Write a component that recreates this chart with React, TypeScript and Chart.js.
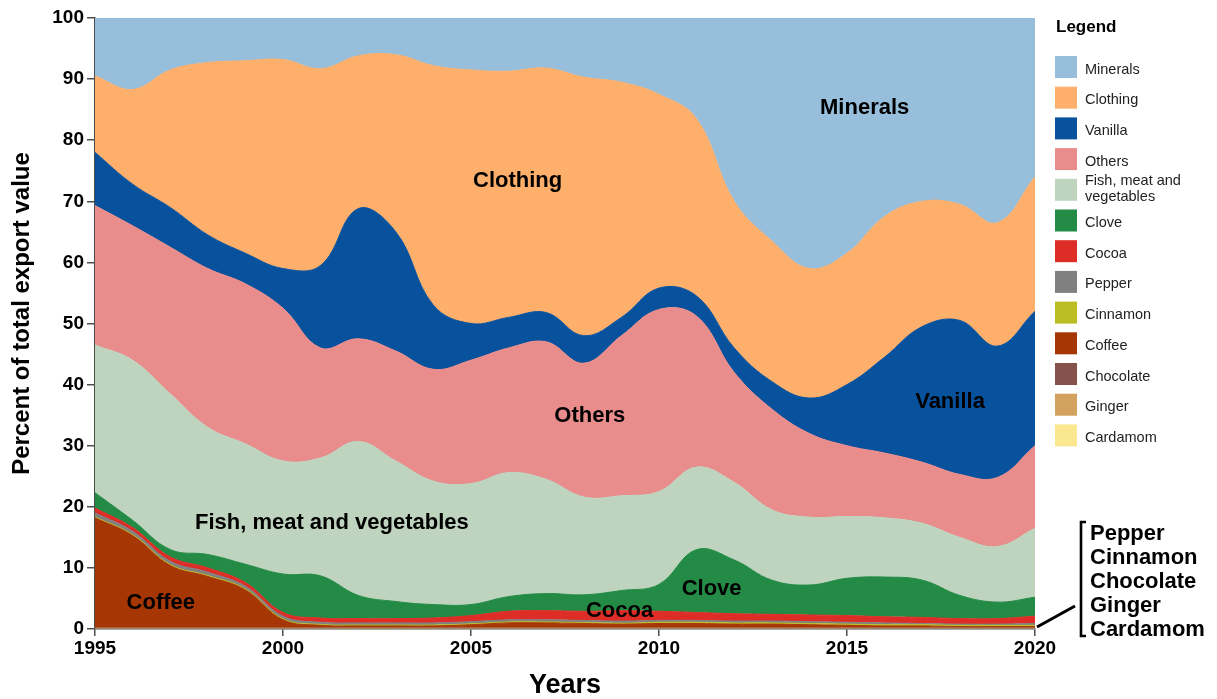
import React, { useEffect, useRef } from 'react';
import { Chart, registerables } from 'chart.js';

Chart.register(...registerables);

const FONT = '"Liberation Sans", Arial, Helvetica, sans-serif';
const AXIS_COLOR = '#4d4d4d';

// ---------------- data ----------------
const years = [
  1995, 1996, 1997, 1998, 1999, 2000, 2001, 2002, 2003, 2004, 2005, 2006, 2007,
  2008, 2009, 2010, 2011, 2012, 2013, 2014, 2015, 2016, 2017, 2018, 2019, 2020,
];

const cardamom = [0.05, 0.05, 0.05, 0.05, 0.05, 0.05, 0.05, 0.05, 0.05, 0.05, 0.05, 0.05, 0.05, 0.05, 0.05, 0.05, 0.05, 0.05, 0.05, 0.05, 0.05, 0.05, 0.05, 0.05, 0.05, 0.05];
const ginger = [0.05, 0.05, 0.05, 0.05, 0.05, 0.05, 0.05, 0.05, 0.05, 0.05, 0.05, 0.05, 0.05, 0.05, 0.05, 0.05, 0.05, 0.05, 0.05, 0.05, 0.05, 0.05, 0.05, 0.05, 0.05, 0.05];
const chocolate = [0.1, 0.1, 0.1, 0.1, 0.1, 0.1, 0.1, 0.1, 0.1, 0.1, 0.1, 0.1, 0.1, 0.1, 0.1, 0.1, 0.1, 0.1, 0.1, 0.1, 0.1, 0.1, 0.1, 0.1, 0.1, 0.1];
const coffee = [18.0, 15.1, 10.2, 8.4, 6.2, 1.3, 0.4, 0.3, 0.3, 0.3, 0.5, 0.8, 0.8, 0.7, 0.6, 0.7, 0.7, 0.6, 0.6, 0.5, 0.4, 0.3, 0.3, 0.2, 0.2, 0.2];
const cinnamon = [0.15, 0.15, 0.15, 0.15, 0.15, 0.15, 0.15, 0.15, 0.15, 0.15, 0.15, 0.15, 0.15, 0.15, 0.15, 0.2, 0.2, 0.2, 0.2, 0.2, 0.2, 0.2, 0.2, 0.2, 0.2, 0.2];
const pepper = [0.65, 0.55, 0.55, 0.55, 0.45, 0.45, 0.35, 0.35, 0.35, 0.35, 0.35, 0.35, 0.35, 0.35, 0.35, 0.3, 0.3, 0.3, 0.3, 0.3, 0.3, 0.3, 0.2, 0.2, 0.2, 0.3];
const cocoa = [0.8, 0.6, 0.7, 0.7, 0.6, 0.6, 0.7, 0.7, 0.7, 0.8, 1.0, 1.4, 1.5, 1.5, 1.7, 1.5, 1.3, 1.2, 1.1, 1.1, 1.1, 1.0, 1.0, 0.9, 0.9, 1.2];
const clove = [2.5, 1.2, 1.2, 2.2, 3.0, 6.3, 6.9, 3.8, 2.8, 2.2, 1.8, 2.4, 2.8, 2.7, 3.3, 4.4, 10.3, 8.8, 5.6, 4.9, 6.1, 6.5, 6.1, 3.8, 2.7, 3.1];
const fish = [24.2, 26.2, 25.5, 20.8, 19.7, 18.5, 19.3, 25.2, 23.0, 20.2, 19.8, 20.3, 18.7, 16.0, 15.5, 15.2, 13.5, 12.7, 11.5, 11.1, 10.1, 9.7, 9.3, 9.5, 9.1, 11.3];
const others = [22.8, 22.0, 24.0, 26.0, 26.2, 25.0, 18.0, 16.8, 18.0, 18.3, 20.2, 20.4, 22.5, 21.9, 26.2, 29.8, 24.7, 18.0, 16.5, 13.7, 11.6, 10.6, 10.0, 10.3, 11.3, 13.5];
const vanilla = [8.7, 6.8, 6.5, 5.5, 5.0, 6.5, 13.5, 21.3, 19.5, 10.5, 6.0, 5.0, 4.8, 4.5, 3.0, 3.5, 3.3, 4.0, 4.5, 5.8, 10.0, 15.7, 22.2, 25.2, 21.5, 22.0];
const clothing = [12.5, 15.5, 22.5, 28.2, 31.5, 34.2, 32.2, 25.0, 29.0, 39.2, 41.5, 40.3, 40.0, 42.3, 38.5, 31.7, 29.0, 24.0, 23.0, 21.2, 21.5, 23.0, 20.5, 19.0, 20.2, 22.0];
const minerals = [9.5, 11.7, 8.5, 7.3, 7.0, 6.8, 8.3, 6.2, 6.0, 7.8, 8.5, 8.7, 8.2, 9.7, 10.5, 12.5, 16.5, 30.0, 36.5, 41.0, 38.5, 32.5, 30.0, 30.5, 33.5, 26.0];

// bottom-to-top stacking order (legend shows it reversed)
const seriesNames = [
  'Cardamom', 'Ginger', 'Chocolate', 'Coffee', 'Cinnamon', 'Pepper', 'Cocoa',
  'Clove', 'Fish, meat and vegetables', 'Others', 'Vanilla', 'Clothing', 'Minerals',
];
const seriesValues = [
  cardamom, ginger, chocolate, coffee, cinnamon, pepper, cocoa,
  clove, fish, others, vanilla, clothing, minerals,
];
const seriesColors = [
  '#fae78f', '#d3a25f', '#86524c', '#a63603', '#bcbd22', '#808080', '#de2d26',
  '#238b45', '#bed4bf', '#e88c8c', '#08519c', '#fdaf6b', '#97bedb',
];
const legendLines: Record<string, string[]> = {
  'Fish, meat and vegetables': ['Fish, meat and', 'vegetables'],
};

const yTicks = [0, 10, 20, 30, 40, 50, 60, 70, 80, 90, 100];
const Y_TITLE = 'Percent of total export value';

// in-area labels anchored in data coordinates (year, percent)
const areaLabels = [
  { text: 'Minerals', year: 2015.47, value: 85.6 },
  { text: 'Clothing', year: 2006.24, value: 73.7 },
  { text: 'Vanilla', year: 2017.74, value: 37.5 },
  { text: 'Others', year: 2008.16, value: 35.2 },
  { text: 'Fish, meat and vegetables', year: 2001.3, value: 17.6 },
  { text: 'Clove', year: 2011.4, value: 6.9 },
  { text: 'Cocoa', year: 2008.95, value: 3.26 },
  { text: 'Coffee', year: 1996.75, value: 4.55 },
];
const sideLabels = ['Pepper', 'Cinnamon', 'Chocolate', 'Ginger', 'Cardamom'];

const LABEL_SIZE = 22;

const overlayPlugin = {
  id: 'overlay',
  afterDatasetsDraw(chart: any) {
    const { ctx } = chart;
    const xs = chart.scales.x;
    const ys = chart.scales.y;
    ctx.save();
    ctx.fillStyle = '#000';
    ctx.font = `bold ${LABEL_SIZE}px ${FONT}`;
    ctx.textAlign = 'center';
    ctx.textBaseline = 'alphabetic';
    for (const l of areaLabels) {
      ctx.fillText(
        l.text,
        xs.getPixelForValue(l.year),
        ys.getPixelForValue(l.value) + LABEL_SIZE * 0.358
      );
    }
    ctx.restore();
  },
  afterDraw(chart: any) {
    const { ctx, chartArea } = chart;
    const right = chartArea.right;
    const bottom = chartArea.bottom;
    ctx.save();

    // y axis title
    ctx.save();
    ctx.translate(22, (chartArea.top + chartArea.bottom) / 2 - 10);
    ctx.rotate(-Math.PI / 2);
    ctx.fillStyle = '#000';
    ctx.font = `bold 24px ${FONT}`;
    ctx.textAlign = 'center';
    ctx.textBaseline = 'middle';
    ctx.fillText(Y_TITLE, 0, 0);
    ctx.restore();

    // pointer line + bracket for the tiny series
    ctx.strokeStyle = '#000';
    ctx.lineWidth = 3;
    ctx.beginPath();
    ctx.moveTo(right + 2, bottom - 2);
    ctx.lineTo(right + 40, bottom - 23);
    ctx.stroke();
    ctx.lineWidth = 2.6;
    ctx.beginPath();
    ctx.moveTo(right + 51, bottom - 107);
    ctx.lineTo(right + 46, bottom - 107);
    ctx.lineTo(right + 46, bottom + 7);
    ctx.lineTo(right + 51, bottom + 7);
    ctx.stroke();

    ctx.fillStyle = '#000';
    ctx.font = `bold ${LABEL_SIZE}px ${FONT}`;
    ctx.textAlign = 'left';
    ctx.textBaseline = 'alphabetic';
    sideLabels.forEach((t, i) => {
      ctx.fillText(t, right + 55, bottom - 89.5 + i * 24);
    });

    // legend
    const lx = 1055;
    ctx.font = `bold 17px ${FONT}`;
    ctx.fillStyle = '#000';
    ctx.fillText('Legend', lx + 1, 32);
    ctx.font = `14.5px ${FONT}`;
    const n = seriesNames.length;
    for (let k = 0; k < n; k++) {
      const idx = n - 1 - k;
      const top = 56 + k * 30.7;
      ctx.fillStyle = seriesColors[idx];
      ctx.fillRect(lx, top, 22, 22);
      ctx.fillStyle = '#222';
      const name = seriesNames[idx];
      const cy = top + 11;
      const lines = legendLines[name];
      if (lines) {
        ctx.fillText(lines[0], lx + 30, cy - 4.5);
        ctx.fillText(lines[1], lx + 30, cy + 11);
      } else {
        ctx.fillText(name, lx + 30, cy + 6.5);
      }
    }
    ctx.restore();
  },
};

export default function App() {
  const canvasRef = useRef<HTMLCanvasElement | null>(null);

  useEffect(() => {
    if (!canvasRef.current) return;
    const datasets = seriesNames.map((name, i) => ({
      label: name,
      data: years.map((yr, j) => ({ x: yr, y: seriesValues[i][j] })),
      backgroundColor: seriesColors[i],
      borderColor: seriesColors[i],
      borderWidth: i < 3 ? 0 : 1,
      fill: i === 0 ? 'origin' : '-1',
      pointRadius: 0,
      tension: 0.4,
    }));

    const chart = new Chart(canvasRef.current, {
      type: 'line',
      data: { datasets },
      options: {
        animation: false,
        responsive: false,
        layout: { padding: { top: 18, right: 182, left: 0, bottom: 0 } },
        plugins: {
          legend: { display: false },
          tooltip: { enabled: false },
        },
        scales: {
          x: {
            type: 'linear',
            min: 1995,
            max: 2020,
            z: 1,
            ticks: {
              stepSize: 5,
              color: '#000',
              padding: 1,
              maxRotation: 0,
              font: { family: FONT, size: 19, weight: 'bold' },
              callback: (v: any) => String(v),
            },
            grid: {
              drawOnChartArea: false,
              tickLength: 7,
              color: AXIS_COLOR,
              lineWidth: 1.5,
            },
            border: { color: AXIS_COLOR, width: 1.5 },
            title: {
              display: true,
              text: 'Years',
              color: '#000',
              font: { family: FONT, size: 27, weight: 'bold', lineHeight: 1 },
              padding: { top: 0, bottom: 0 },
            },
            afterFit: (s: any) => {
              s.height = 70;
            },
          },
          y: {
            stacked: true,
            min: 0,
            max: 100,
            z: 1,
            afterBuildTicks: (s: any) => {
              s.ticks = yTicks.map((v) => ({ value: v }));
            },
            ticks: {
              color: '#000',
              padding: 3,
              font: { family: FONT, size: 19, weight: 'bold' },
            },
            grid: {
              drawOnChartArea: false,
              tickLength: 8,
              color: AXIS_COLOR,
              lineWidth: 1.5,
            },
            border: { color: AXIS_COLOR, width: 1.5 },
            title: { display: false },
            afterFit: (s: any) => {
              s.width = 95;
            },
          },
        },
      },
      plugins: [overlayPlugin],
    } as any);

    return () => chart.destroy();
  }, []);

  return (
    <div style={{ position: 'fixed', left: 0, top: 0, width: 1217, height: 699, background: '#fff' }}>
      <canvas ref={canvasRef} width={1217} height={699} style={{ display: 'block' }} />
    </div>
  );
}
